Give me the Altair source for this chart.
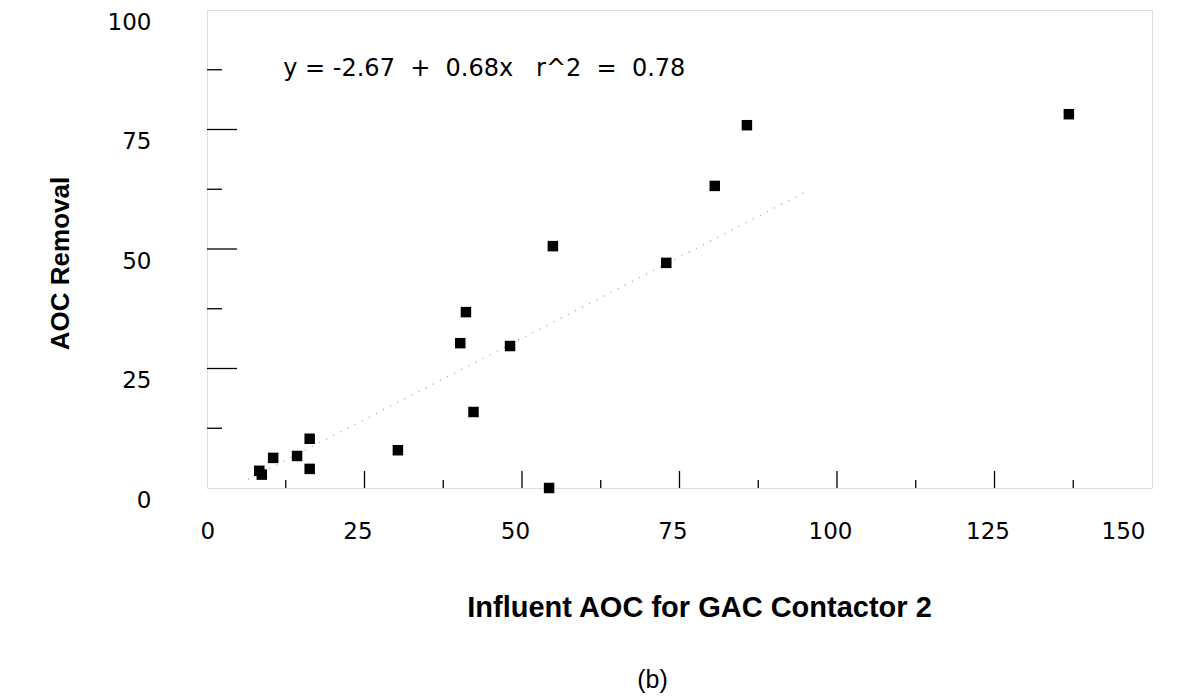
import altair as alt
import pandas as pd

# Scatter data
influent_aoc = [8.3, 8.7, 10.5, 14.3, 16.3, 16.3, 30.3, 40.2, 41.1, 42.3, 48.1, 54.9, 54.3, 72.9, 80.6, 85.7, 136.8]
aoc_removal = [3.6, 2.8, 6.3, 6.7, 10.3, 4.0, 7.9, 30.3, 36.8, 15.9, 29.7, 50.6, 0.0, 47.1, 63.2, 75.9, 78.2]

# Fitted line end points (y = -2.67 + 0.68x), as drawn
fit_x = [6.5, 95.0]
fit_y = [1.75, 61.93]

# Annotation (non-breaking spaces keep the wide gaps of the original)
NB = "\u00a0"
eq_text = ["y" + NB + "=" + NB + "-2.67" + NB * 2 + "+" + NB * 2 + "0.68x" + NB * 3
           + "r^2" + NB * 2 + "=" + NB * 2 + "0.78"]
eq_x = [12.1]
eq_y = [86.2]

# Axis ticks
x_labels = [0, 25, 50, 75, 100, 125, 150]
y_labels = [0, 25, 50, 75, 100]
x_major_ticks = [25, 50, 75, 100, 125]
x_minor_ticks = [12.5, 37.5, 62.5, 87.5, 112.5, 137.5]
y_major_ticks = [25, 50, 75]
y_minor_ticks = [12.5, 37.5, 62.5, 87.5]

W, H = 945, 478

pts = pd.DataFrame({"x": influent_aoc, "y": aoc_removal})
fit = pd.DataFrame({"x": fit_x, "y": fit_y})
eq = pd.DataFrame({"x": eq_x, "y": eq_y, "t": eq_text})

xscale = alt.Scale(domain=[0, 150], nice=False, zero=False)
yscale = alt.Scale(domain=[0, 100], nice=False, zero=False)

xaxis = alt.Axis(
    values=x_labels, grid=False, domain=False, ticks=False, tickSize=0,
    labelFont="DejaVu Sans", labelFontSize=23, labelColor="black",
    labelPadding=32, labelOffset=-7,
    title="Influent AOC for GAC Contactor 2", titleFont="Liberation Sans",
    titleFontSize=29, titleFontWeight="bold", titleColor="black",
    titleX=492, titleY=128, titleBaseline="alphabetic",
)
yaxis = alt.Axis(
    values=y_labels, grid=False, domain=False, ticks=False, tickSize=0,
    labelFont="DejaVu Sans", labelFontSize=23, labelColor="black",
    labelPadding=56, labelOffset=12,
    title="AOC Removal", titleFont="Liberation Sans",
    titleFontSize=26, titleFontWeight="bold", titleColor="black",
    titleX=-139, titleY=253, titleAngle=270, titleBaseline="alphabetic",
    titleAlign="center",
)

points = alt.Chart(pts).mark_square(size=110, color="black", opacity=1).encode(
    x=alt.X("x:Q", scale=xscale, axis=xaxis),
    y=alt.Y("y:Q", scale=yscale, axis=yaxis),
)

line = alt.Chart(fit).mark_line(color="#aaaaaa", strokeWidth=1.5, strokeDash=[1, 7]).encode(
    x=alt.X("x:Q", scale=xscale),
    y=alt.Y("y:Q", scale=yscale),
)

text = alt.Chart(eq).mark_text(
    align="left", baseline="alphabetic", font="DejaVu Sans", fontSize=24, color="black"
).encode(
    x=alt.X("x:Q", scale=xscale),
    y=alt.Y("y:Q", scale=yscale),
    text="t:N",
)

def xticks(vals, length):
    return alt.Chart(pd.DataFrame({"v": vals})).mark_rule(color="black", strokeWidth=1.3).encode(
        x=alt.X("v:Q", scale=xscale),
        y=alt.value(H),
        y2=alt.value(H - length),
    )

def yticks(vals, length):
    return alt.Chart(pd.DataFrame({"v": vals})).mark_rule(color="black", strokeWidth=1.3).encode(
        y=alt.Y("v:Q", scale=yscale),
        x=alt.value(0),
        x2=alt.value(length),
    )

chart = alt.layer(
    line,
    xticks(x_major_ticks, 17), xticks(x_minor_ticks, 8),
    yticks(y_major_ticks, 30), yticks(y_minor_ticks, 15),
    points, text,
).properties(
    width=W, height=H,
    autosize=alt.AutoSizeParams(type="none"),
    padding={"left": 207, "top": 10, "right": 25, "bottom": 208},
    title=alt.TitleParams(
        "(b)", orient="bottom", anchor="middle", font="Liberation Sans",
        fontSize=25, fontWeight="normal", color="black", dx=-27, offset=46,
    ),
).configure_view(
    stroke="black", strokeWidth=1.5
).configure(background="white")

chart.save("out.html", embed_options={"renderer": "svg", "actions": False})
